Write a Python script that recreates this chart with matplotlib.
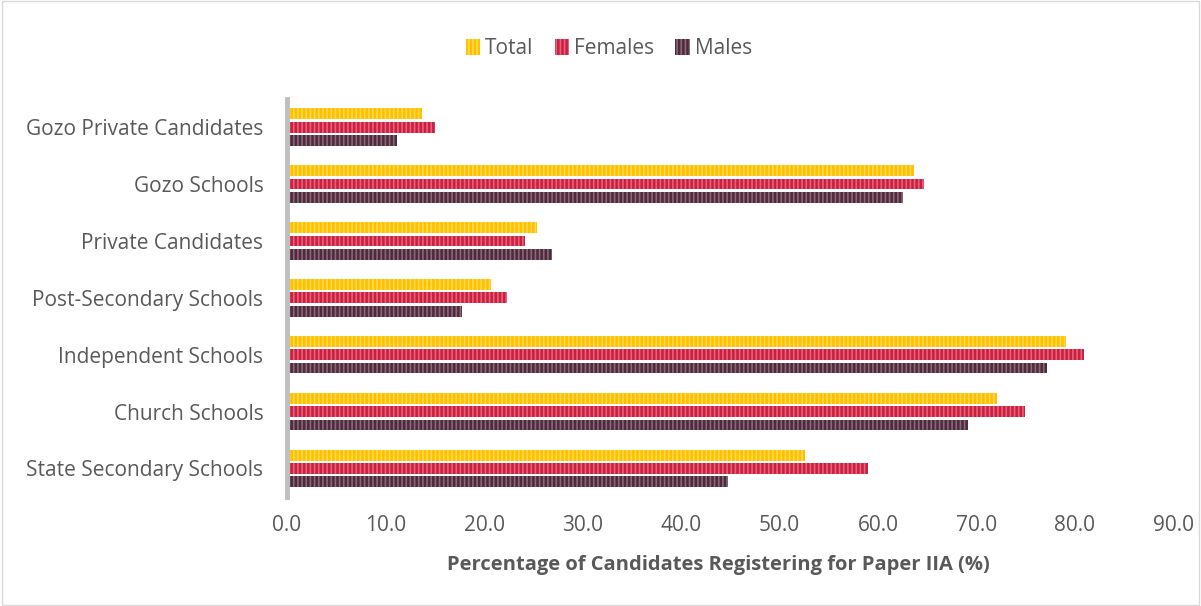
import matplotlib
matplotlib.use('Agg')
import matplotlib.pyplot as plt
from matplotlib.patches import Rectangle
import numpy as np

categories = ['State Secondary Schools', 'Church Schools', 'Independent Schools',
              'Post-Secondary Schools', 'Private Candidates', 'Gozo Schools',
              'Gozo Private Candidates']
total = [52.6, 72.1, 79.1, 20.7, 25.4, 63.7, 13.7]
females = [59.0, 74.9, 80.9, 22.3, 24.2, 64.7, 15.0]
males = [44.8, 69.1, 77.2, 17.8, 26.9, 62.5, 11.2]
xticks = np.arange(0, 91, 10)

plt.rcParams['font.family'] = ['Open Sans', 'DejaVu Sans']
plt.rcParams['hatch.linewidth'] = 1.2
gray = '#595959'

fig = plt.figure(figsize=(12.01, 6.06), dpi=100)
ax = fig.add_axes([0.239, 0.180, 0.738, 0.657])

y = np.arange(len(categories))
h = 0.19
step = 0.235
series = [('Total', total, '#FFC000', '#FFD84D', step),
          ('Females', females, '#C8203F', '#E8607A', 0),
          ('Males', males, '#4E2A3C', '#8A6878', -step)]
handles = []
for name, vals, fc, hc, off in series:
    b = ax.barh(y + off, vals, height=h, color=fc, edgecolor=hc,
                linewidth=0, hatch='||||', label=name)
    handles.append(b)

ax.set_xlim(0, 90)
ax.set_ylim(-0.5, 6.5)
ax.set_xticks(xticks)
ax.set_xticklabels([f'{v:.1f}' for v in xticks])
ax.set_yticks(y)
ax.set_yticklabels(categories)
ax.tick_params(axis='both', length=0, labelsize=15, colors=gray)
ax.tick_params(axis='x', pad=13)
ax.tick_params(axis='y', pad=17)
for s in ['top', 'right', 'bottom']:
    ax.spines[s].set_visible(False)
ax.spines['left'].set_color('#BFBFBF')
ax.spines['left'].set_linewidth(3.5)

ax.set_xlabel('Percentage of Candidates Registering for Paper IIA (%)',
              fontsize=14.5, fontweight='bold', color=gray)
ax.xaxis.set_label_coords(0.487, -0.145)

fig.legend(handles=handles, loc='upper center', bbox_to_anchor=(0.507, 0.968),
           ncol=3, frameon=False, fontsize=15, labelcolor=gray,
           handlelength=0.7, handleheight=0.8, handletextpad=0.25,
           columnspacing=1.0)

fig.patches.append(Rectangle((0.002, 0.002), 0.996, 0.996, transform=fig.transFigure,
                             fill=False, edgecolor='#D9D9D9', linewidth=1))

fig.savefig('out.png', dpi=100)
